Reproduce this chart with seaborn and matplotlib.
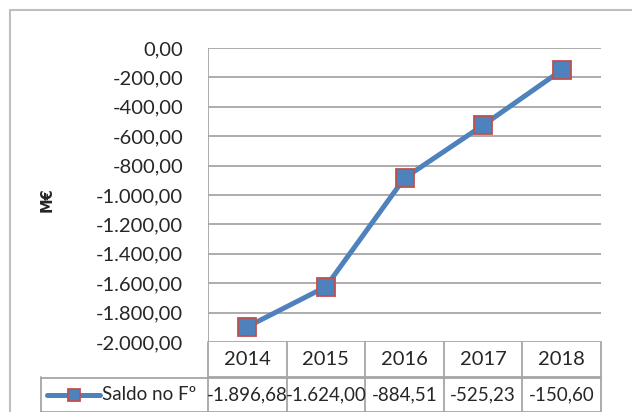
import numpy as np
import pandas as pd
import matplotlib
matplotlib.use("Agg")
import matplotlib.pyplot as plt
import matplotlib.transforms as mtrans
from matplotlib.lines import Line2D
from matplotlib.patches import Rectangle
import seaborn as sns

# data
years = ["2014", "2015", "2016", "2017", "2018"]
saldo = [-1896.68, -1624.00, -884.51, -525.23, -150.60]
series_name = "Saldo no Fº"
y_label = "M€"

sns.set_style("white")
plt.rcParams["font.family"] = ["Lato", "DejaVu Sans"]

BLUE = "#4F81BD"
RED = "#C0504D"
GRID = "#A6A6A6"
_fs = 14.5
_fs_tab = 13.5


def pt_fmt(v, decimals=2):
    s = f"{v:,.{decimals}f}"
    return s.replace(",", "X").replace(".", ",").replace("X", ".")


W, H = 632, 412
fig = plt.figure(figsize=(W / 100, H / 100), dpi=100)
ax = fig.add_axes([208 / W, 1 - 342 / H, (601 - 208) / W, (342 - 48) / H])

df = pd.DataFrame({"x": np.arange(len(years)), "saldo": saldo})
sns.lineplot(data=df, x="x", y="saldo", ax=ax, color=BLUE, linewidth=3.6,
             marker="s", markersize=13, markerfacecolor=BLUE,
             markeredgecolor=RED, markeredgewidth=1.3, legend=False)

ax.set_xlim(-0.5, len(years) - 0.5)
ax.set_ylim(-2000, 0)
yt = np.arange(-2000, 1, 200)
ax.set_yticks(yt)
ax.set_yticklabels([pt_fmt(v) for v in yt], fontsize=_fs)
ax.tick_params(axis="y", length=0, pad=18)
ax.set_xticks([])
ax.set_xlabel("")
ax.set_ylabel("")
for s in ax.spines.values():
    s.set_visible(False)
ax.grid(False)
for v in yt:
    ax.axhline(v, color=GRID, lw=1.3, zorder=0)
ax.axvline(-0.5, color=GRID, lw=1.3, zorder=0)

fig.text(47 / W, 1 - 200 / H, y_label, rotation=90, ha="center", va="center",
         fontsize=10.5, fontweight="bold", family="DejaVu Sans")

# data table under the plot (axes coords vertically, data coords horizontally)
tr = mtrans.blended_transform_factory(ax.transData, ax.transAxes)
row_h = 35 / 294
y0, y1, y2 = 0, -row_h, -2 * row_h
left_x = -0.5 - (208 - 41) / ((601 - 208) / len(years))
kw = dict(color=GRID, lw=1.3, transform=tr, clip_on=False)
n = len(years)
ax.add_line(Line2D([-0.5, n - 0.5], [y1, y1], **kw))
ax.add_line(Line2D([left_x, n - 0.5], [y1 - 0.002, y1 - 0.002], **kw))
ax.add_line(Line2D([left_x, n - 0.5], [y2, y2], **kw))
ax.add_line(Line2D([left_x, left_x], [y1, y2], **kw))
ax.add_line(Line2D([-0.5, -0.5], [y0, y2], **kw))
for i in range(n):
    ax.add_line(Line2D([i + 0.5, i + 0.5], [y0, y2], **kw))
    ax.text(i, (y0 + y1) / 2, years[i], transform=tr, ha="center",
            va="center", fontsize=_fs)
    ax.text(i, (y1 + y2) / 2, pt_fmt(saldo[i]), transform=tr, ha="center",
            va="center", fontsize=_fs_tab)

# legend key inside the table
ym = (y1 + y2) / 2
kx0 = left_x + 0.08
kx1 = left_x + 0.75
ax.add_line(Line2D([kx0, kx1], [ym, ym], color=BLUE, lw=3.6,
                   solid_capstyle="round", transform=tr, clip_on=False))
ax.add_line(Line2D([(kx0 + kx1) / 2], [ym], marker="s", markersize=9,
                   markerfacecolor=BLUE, markeredgecolor=RED,
                   markeredgewidth=1.3, transform=tr, clip_on=False))
ax.text(kx1 + 0.02, ym, series_name, transform=tr, ha="left", va="center",
        fontsize=_fs_tab)

# chart border
fig.add_artist(Rectangle((10 / W, -0.1), 1.2, 1.1 - 10 / H, fill=False,
                         edgecolor="#BFBFBF", lw=1.5, transform=fig.transFigure))

plt.savefig("out.png", dpi=100)
